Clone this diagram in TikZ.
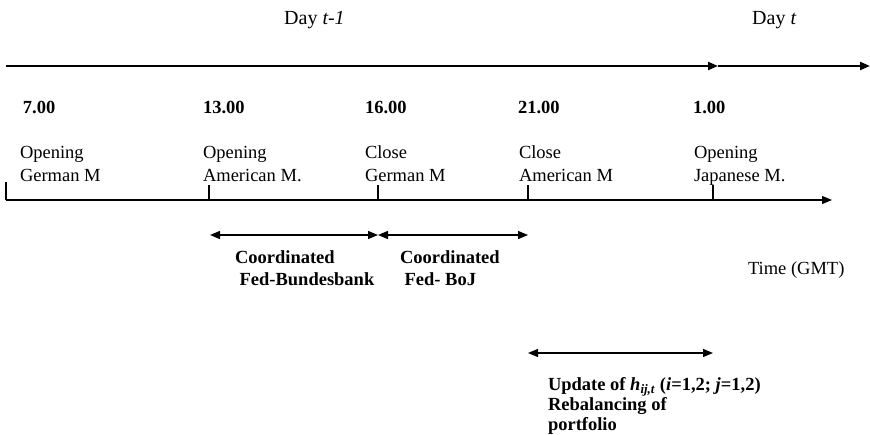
\documentclass[tikz,border=0pt]{standalone}
\usepackage{fontspec}
\setmainfont{Liberation Serif}
\usetikzlibrary{arrows.meta}
\begin{document}
\begin{tikzpicture}[x=1pt,y=-1pt,
  lbl/.style={anchor=base west,inner sep=0pt,outer sep=0pt,align=left,font=\fontsize{18.5}{23}\selectfont},
  blbl/.style={lbl,font=\fontsize{18.5}{22}\selectfont\bfseries},
  ttl/.style={anchor=base west,inner sep=0pt,font=\fontsize{20}{24}\selectfont},
  tip/.style={-{Triangle[length=10pt,width=8pt]}},
  dbl/.style={{Triangle[length=10pt,width=8pt]}-{Triangle[length=10pt,width=8pt]},line width=1.3pt},
  axis/.style={line width=1.2pt},
  tick/.style={line width=1.2pt}]
\useasboundingbox (0,0) rectangle (870,434);

% titles
\node[ttl] (d1) at (284,24) {Day \textit{t-1}};
\node[ttl] (d2) at (752,24) {Day \textit{t}};

% top time line
\coordinate (tl) at (6,66);
\coordinate (tm) at (718,66);
\coordinate (tr) at (870,66);
\draw[tip,line width=2pt] (tl) -- (tm);
\draw[tip,line width=2pt] (tm) -- (tr);

% hours
\node[blbl] (h7) at (23,113) {7.00};
\node[blbl] (h13) at (203,113) {13.00};
\node[blbl] (h16) at (365,113) {16.00};
\node[blbl] (h21) at (518,113) {21.00};
\node[blbl] (h1) at (693,113) {1.00};

% events (base = last line)
\node[lbl] (e1) at (20,181) {Opening\\German M};
\node[lbl] (e2) at (203,181) {Opening\\American M.};
\node[lbl] (e3) at (365,181) {Close\\German M};
\node[lbl] (e4) at (519,181) {Close\\American M};
\node[lbl] (e5) at (694,181) {Opening\\Japanese M.};

% bottom axis
\coordinate (a0) at (6,200);
\coordinate (aE) at (832,200);
\draw[axis,tip] (a0) -- (aE);
\coordinate (k0) at (6,182);
\coordinate (k13) at (209,200);
\coordinate (k16) at (378,200);
\coordinate (k21) at (528,200);
\coordinate (k1) at (713,200);
\draw[tick] (a0) -- (k0);
\foreach \k in {k13,k16,k21,k1} \draw[tick] (\k) -- ++(0,-15);

% intervals
\coordinate (b1) at (210,235);
\coordinate (b2) at (378,235);
\coordinate (b3) at (528,235);
\draw[dbl] (b1) -- (b2);
\draw[dbl] (b2) -- (b3);
\coordinate (c1) at (528,353);
\coordinate (c2) at (713,353);
\draw[dbl] (c1) -- (c2);

\node[lbl] (gmt) at (748,274) {Time (GMT)};
\node[blbl] (cb) at (235,285) {Coordinated\\\ Fed-Bundesbank};
\node[blbl] (cj) at (400,285) {Coordinated\\\ Fed- BoJ};
\node[blbl,font=\fontsize{18.5}{20}\selectfont\bfseries] (up) at (548,430) {Update of \textit{h}\textsubscript{\textit{ij,t}} (\textit{i}=1,2; \textit{j}=1,2)\\Rebalancing of\\portfolio};
\end{tikzpicture}
\end{document}
